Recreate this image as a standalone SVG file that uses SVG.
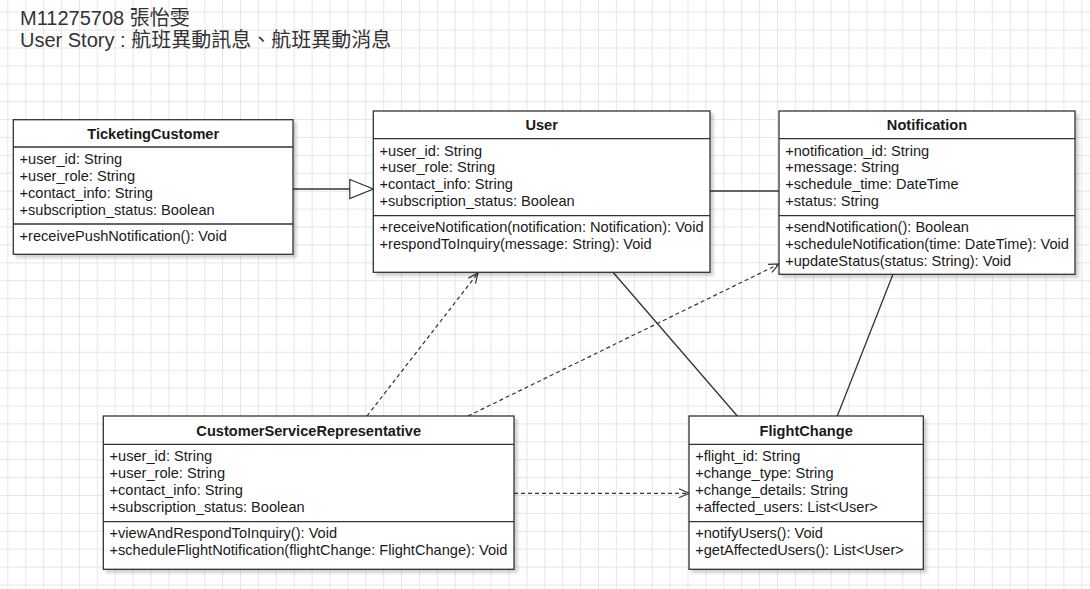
<svg xmlns="http://www.w3.org/2000/svg" width="1090" height="589" viewBox="0 0 1090 589">
<defs>
<pattern id="grid" patternUnits="userSpaceOnUse" x="7.3" y="11.7" width="17.9" height="17.9">
<path d="M0 0.5 H17.9 M0.5 0 V17.9" fill="none" stroke="#e6e6e6" stroke-width="1"/>
</pattern>
<filter id="sh" x="-5%" y="-5%" width="115%" height="120%">
<feDropShadow dx="3" dy="3" stdDeviation="1.5" flood-color="#000" flood-opacity="0.18"/>
</filter>
<marker id="open" viewBox="0 0 12 12" refX="11" refY="6" markerWidth="12" markerHeight="12" markerUnits="userSpaceOnUse" orient="auto">
<path d="M1 1.5 L11 6 L1 10.5" fill="none" stroke="#333" stroke-width="1.2"/>
</marker>
<marker id="gen" viewBox="0 0 26 22" refX="24.5" refY="11" markerWidth="26" markerHeight="22" markerUnits="userSpaceOnUse" orient="auto">
<path d="M1 1.5 L24.5 11 L1 20.5 Z" fill="#fff" stroke="#333" stroke-width="1.2"/>
</marker>
</defs>
<style>
.box{fill:#fff;stroke:#333;stroke-width:1.3}
.sep{stroke:#333;stroke-width:1.3}
.t{font-family:"Liberation Sans",Arial,sans-serif;font-size:14.6px;fill:#1a1a1a}
.h{font-family:"Liberation Sans",Arial,sans-serif;font-size:14.6px;font-weight:bold;fill:#1a1a1a;text-anchor:middle}
.title{font-family:"Liberation Sans","Noto Sans CJK TC",sans-serif;font-size:20px;fill:#333}
.ln{fill:none;stroke:#333;stroke-width:1.3}
.dash{fill:none;stroke:#333;stroke-width:1.2;stroke-dasharray:4 3}
</style>
<rect width="1090" height="589" fill="#fff"/>
<rect width="1090" height="589" fill="url(#grid)"/>

<g id="title">
<text class="title" x="20" y="25">M11275708 張怡雯</text>
<text class="title" x="20" y="47">User Story : 航班異動訊息、航班異動消息</text>
</g>

<g id="connectors">
<line class="ln" x1="293" y1="189" x2="373.3" y2="189" marker-end="url(#gen)"/>
<line class="ln" x1="710" y1="191" x2="779" y2="191"/>
<line class="ln" x1="613" y1="272.3" x2="737.3" y2="416"/>
<line class="ln" x1="893" y1="274.3" x2="837.3" y2="416"/>
<line class="dash" x1="367" y1="416" x2="478" y2="273" marker-end="url(#open)"/>
<line class="dash" x1="468" y1="416" x2="779" y2="264" marker-end="url(#open)"/>
<line class="dash" x1="514" y1="493.3" x2="689" y2="493.3" marker-end="url(#open)"/>
</g>

<g id="TicketingCustomer">
<rect class="box" x="13.3" y="119.7" width="279.7" height="134.6" filter="url(#sh)"/>
<line class="sep" x1="13.3" y1="147" x2="293" y2="147"/>
<line class="sep" x1="13.3" y1="224" x2="293" y2="224"/>
<text class="h" x="153.2" y="138.5">TicketingCustomer</text>
<text class="t" x="19.5" y="164.3">+user_id: String</text>
<text class="t" x="19.5" y="181.1">+user_role: String</text>
<text class="t" x="19.5" y="197.9">+contact_info: String</text>
<text class="t" x="19.5" y="214.7">+subscription_status: Boolean</text>
<text class="t" x="19.5" y="240.5">+receivePushNotification(): Void</text>
</g>

<g id="User">
<rect class="box" x="373.3" y="111" width="336.7" height="161.3" filter="url(#sh)"/>
<line class="sep" x1="373.3" y1="138.7" x2="710" y2="138.7"/>
<line class="sep" x1="373.3" y1="215.7" x2="710" y2="215.7"/>
<text class="h" x="541.7" y="130">User</text>
<text class="t" x="379.5" y="155.5">+user_id: String</text>
<text class="t" x="379.5" y="172.3">+user_role: String</text>
<text class="t" x="379.5" y="189.1">+contact_info: String</text>
<text class="t" x="379.5" y="205.9">+subscription_status: Boolean</text>
<text class="t" x="379.5" y="232.3">+receiveNotification(notification: Notification): Void</text>
<text class="t" x="379.5" y="249.1">+respondToInquiry(message: String): Void</text>
</g>

<g id="Notification">
<rect class="box" x="779" y="111" width="296" height="163.3" filter="url(#sh)"/>
<line class="sep" x1="779" y1="138.7" x2="1075" y2="138.7"/>
<line class="sep" x1="779" y1="215.7" x2="1075" y2="215.7"/>
<text class="h" x="927" y="130">Notification</text>
<text class="t" x="785.2" y="155.5">+notification_id: String</text>
<text class="t" x="785.2" y="172.3">+message: String</text>
<text class="t" x="785.2" y="189.1">+schedule_time: DateTime</text>
<text class="t" x="785.2" y="205.9">+status: String</text>
<text class="t" x="785.2" y="232.3">+sendNotification(): Boolean</text>
<text class="t" x="785.2" y="249.1">+scheduleNotification(time: DateTime): Void</text>
<text class="t" x="785.2" y="265.9">+updateStatus(status: String): Void</text>
</g>

<g id="CustomerServiceRepresentative">
<rect class="box" x="103.3" y="416" width="410.7" height="153.3" filter="url(#sh)"/>
<line class="sep" x1="103.3" y1="444.3" x2="514" y2="444.3"/>
<line class="sep" x1="103.3" y1="521.7" x2="514" y2="521.7"/>
<text class="h" x="308.7" y="435.5">CustomerServiceRepresentative</text>
<text class="t" x="109.5" y="461.2">+user_id: String</text>
<text class="t" x="109.5" y="478">+user_role: String</text>
<text class="t" x="109.5" y="494.8">+contact_info: String</text>
<text class="t" x="109.5" y="511.6">+subscription_status: Boolean</text>
<text class="t" x="109.5" y="538">+viewAndRespondToInquiry(): Void</text>
<text class="t" x="109.5" y="554.8">+scheduleFlightNotification(flightChange: FlightChange): Void</text>
</g>

<g id="FlightChange">
<rect class="box" x="689" y="416" width="234.3" height="153.3" filter="url(#sh)"/>
<line class="sep" x1="689" y1="444.3" x2="923.3" y2="444.3"/>
<line class="sep" x1="689" y1="521.7" x2="923.3" y2="521.7"/>
<text class="h" x="806.2" y="435.5">FlightChange</text>
<text class="t" x="695.2" y="461.2">+flight_id: String</text>
<text class="t" x="695.2" y="478">+change_type: String</text>
<text class="t" x="695.2" y="494.8">+change_details: String</text>
<text class="t" x="695.2" y="511.6">+affected_users: List&lt;User&gt;</text>
<text class="t" x="695.2" y="538">+notifyUsers(): Void</text>
<text class="t" x="695.2" y="554.8">+getAffectedUsers(): List&lt;User&gt;</text>
</g>
</svg>
